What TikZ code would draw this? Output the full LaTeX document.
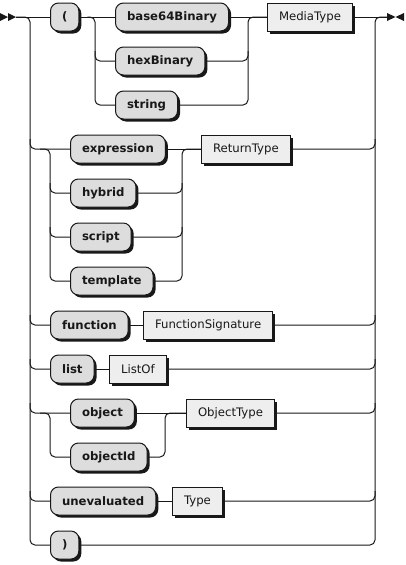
\documentclass[tikz,border=0pt]{standalone}
\usepackage{fontspec}
\setmainfont{DejaVu Sans}
\usetikzlibrary{shadows,calc}
\definecolor{Ink}{HTML}{181818}
\definecolor{TermFill}{HTML}{DDDDDD}
\definecolor{RuleFill}{HTML}{EEEEEE}

\begin{document}
\begin{tikzpicture}[x=1pt,y=-1pt,line width=1pt,color=Ink,
  base/.style={draw=Ink,line width=1pt,minimum height=28pt,inner xsep=11.5pt,anchor=west,
    font=\fontsize{11.7}{13}\selectfont,
    drop shadow={shadow xshift=2.5pt,shadow yshift=-2.5pt,fill=Ink,opacity=1}},
  term/.style={base,fill=TermFill,rounded corners=8pt,font=\fontsize{11.7}{13}\selectfont\bfseries},
  rule/.style={base,fill=RuleFill},
  rail/.style={rounded corners=5pt}]
\useasboundingbox (0,0) rectangle (405,565);
% buses
\coordinate (lbus) at (30,0);
\coordinate (rbus) at (375,0);
\coordinate (s1) at (95,0);
\coordinate (j1) at (248,0);
\coordinate (s2) at (50,0);
\coordinate (j2) at (182,0);
\coordinate (j3) at (165,0);
\coordinate (start) at (16,17);
\coordinate (stop) at (387,17);
\fill (0,13) -- (8,17) -- (0,21) -- cycle;
\fill (8,13) -- (16,17) -- (8,21) -- cycle;
\fill (387,13) -- (395.5,17) -- (387,21) -- cycle;
\fill (404,13) -- (395.5,17) -- (404,21) -- cycle;
% nodes
\node[term] (lparen) at (50,17) {(};
\node[term] (b64) at (115,17) {base64Binary};
\node[term] (hex) at (115,61) {hexBinary};
\node[term] (str) at (115,105) {string};
\node[rule] (media) at (267,17) {MediaType};
\node[term] (expr) at (70,149) {expression};
\node[term] (hybrid) at (70,193) {hybrid};
\node[term] (script) at (70,237) {script};
\node[term] (templ) at (70,281) {template};
\node[rule] (ret) at (201,149) {ReturnType};
\node[term] (func) at (50,325) {function};
\node[rule] (sig) at (143,325) {FunctionSignature};
\node[term] (list) at (50,369) {list};
\node[rule] (listof) at (109,369) {ListOf};
\node[term] (obj) at (70,413) {object};
\node[term] (objid) at (70,457) {objectId};
\node[rule] (objtype) at (186,413) {ObjectType};
\node[term] (uneval) at (50,501) {unevaluated};
\node[rule] (type) at (172,501) {Type};
\node[term] (rparen) at (50,545) {)};
% main rails
\draw (start) -- (lparen);
\draw (media) -- (stop);
\draw[rail] (start) -| (lbus |- rparen.west) -- (rparen.west);
\draw[rail] (rparen.east) -| (rbus |- stop) -- (stop);
\foreach \a/\b in {lparen/b64,b64/media,expr/ret,func/sig,list/listof,obj/objtype,uneval/type}
  \draw (\a) -- (\b);
\foreach \n in {expr,func,list,obj,uneval}
  \draw[rail] ($(lbus |- \n.west)+(0,-10)$) |- (\n.west);
\foreach \n in {ret,sig,listof,objtype,type}
  \draw[rail] (\n.east) -| ($(rbus |- \n.east)+(0,-10)$);
% ( ... ) MediaType
\draw[rail] ($(lparen.east)+(8,0)$) -| (s1 |- str.west) -- (str.west);
\draw[rail] ($(s1 |- hex.west)+(0,-10)$) |- (hex.west);
\draw[rail] (str.east) -| (j1 |- media.west) -- (media.west);
\draw[rail] (hex.east) -| ($(j1 |- hex.east)+(0,-10)$);
% expression ... ReturnType
\draw[rail] ($(lbus |- expr.west)+(10,0)$) -| (s2 |- templ.west) -- (templ.west);
\foreach \n in {hybrid,script} {
  \draw[rail] ($(s2 |- \n.west)+(0,-10)$) |- (\n.west);
  \draw[rail] (\n.east) -| ($(j2 |- \n.east)+(0,-10)$);
}
\draw[rail] (templ.east) -| (j2 |- ret.west) -- (ret.west);
% object ... ObjectType
\draw[rail] ($(lbus |- obj.west)+(10,0)$) -| (s2 |- objid.west) -- (objid.west);
\draw[rail] (objid.east) -| (j3 |- objtype.west) -- (objtype.west);
\end{tikzpicture}
\end{document}
